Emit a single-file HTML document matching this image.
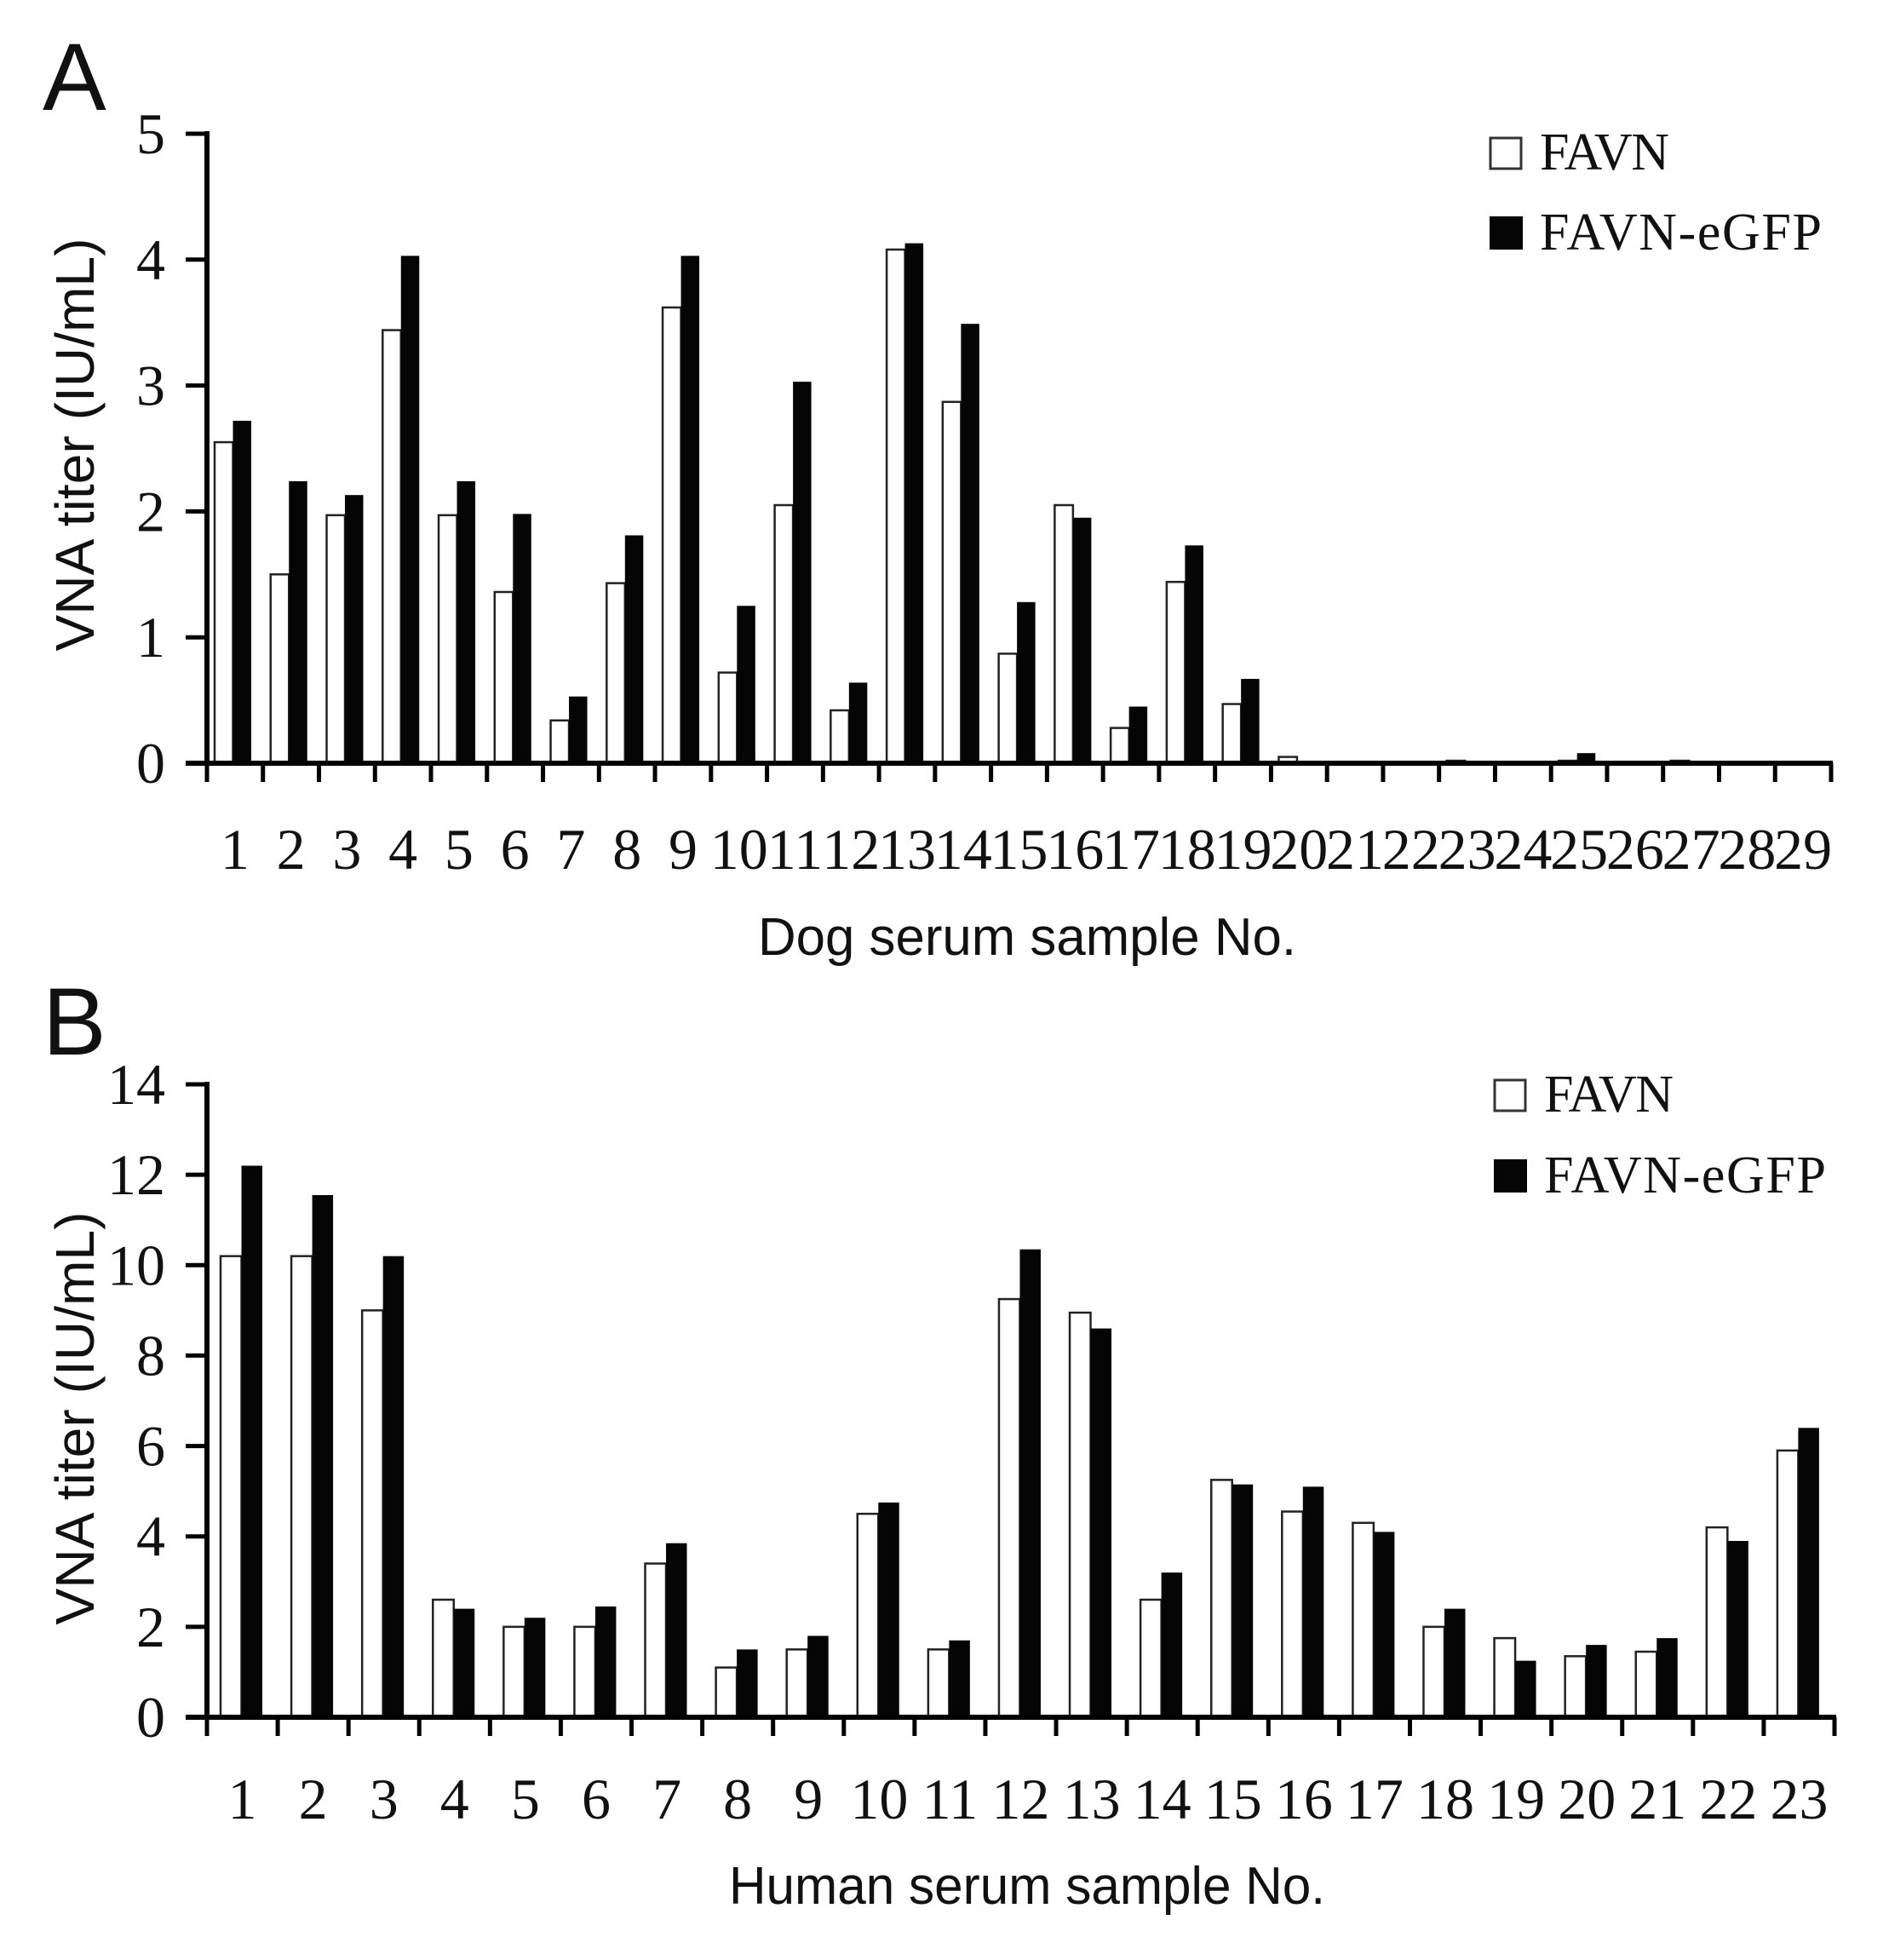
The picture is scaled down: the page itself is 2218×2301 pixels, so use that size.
<!DOCTYPE html>
<html><head><meta charset="utf-8"><style>
html,body{margin:0;padding:0;background:#fff;}
svg{display:block;}
.serif{font-family:"Liberation Serif",serif;fill:#111;}
.sans{font-family:"Liberation Sans",sans-serif;fill:#111;}
</style></head><body>
<svg id="fig" width="2218" height="2301" viewBox="0 0 2218 2301" xmlns="http://www.w3.org/2000/svg">
<rect x="0" y="0" width="2218" height="2301" fill="#fff"/>
<g id="panelA"></g>
<g id="panelB"></g>
</svg>
<script>
const catsA = [1,2,3,4,5,6,7,8,9,10,11,12,13,14,15,16,17,18,19,20,21,22,23,24,25,26,27,28,29];
const favnA = [2.55,1.5,1.97,3.44,1.97,1.36,0.34,1.43,3.62,0.72,2.05,0.42,4.08,2.87,0.87,2.05,0.28,1.44,0.47,0.05,0,0,0.02,0,0.02,0,0.02,0,0];
const egfpA = [2.72,2.24,2.13,4.03,2.24,1.98,0.53,1.81,4.03,1.25,3.03,0.64,4.13,3.49,1.28,1.95,0.45,1.73,0.67,0.02,0,0,0.02,0,0.08,0,0,0,0];
const ticksA = [0,1,2,3,4,5];

const catsB = [1,2,3,4,5,6,7,8,9,10,11,12,13,14,15,16,17,18,19,20,21,22,23];
const favnB = [10.2,10.2,9.0,2.6,2.0,2.0,3.4,1.1,1.5,4.5,1.5,9.25,8.95,2.6,5.25,4.55,4.3,2.0,1.75,1.35,1.45,4.2,5.9];
const egfpB = [12.2,11.55,10.2,2.4,2.2,2.45,3.85,1.5,1.8,4.75,1.7,10.35,8.6,3.2,5.15,5.1,4.1,2.4,1.25,1.6,1.75,3.9,6.4];
const ticksB = [0,2,4,6,8,10,12,14];

const NS = "http://www.w3.org/2000/svg";
function mk(parent, tag, attrs, text){
  const el = document.createElementNS(NS, tag);
  for (const k in attrs) el.setAttribute(k, attrs[k]);
  if (text !== undefined) el.textContent = text;
  parent.appendChild(el);
  return el;
}

function drawPanel(g, cfg){
  const {cats, favn, egfp, ticks, x0, x1, y0, yTop, ymax, barOff, barW, letter, letterY, xTitle, xTitleX, xTitleY, xTitleLen, tickLabelY, yTitleCY, legY1, legY2, legX} = cfg;
  const cw = (x1 - x0) / cats.length;
  const xs = i => x0 + i * cw;
  const ys = v => y0 - (v / ymax) * (y0 - yTop);

  const lt = mk(g, 'text', {x: 50, y: letterY, 'font-size': 112, class: 'sans'}, letter);
  
  

  cats.forEach((c, i) => {
    const bx = xs(i) + barOff;
    const hf = y0 - ys(favn[i]);
    const r1 = mk(g, 'rect', {x: bx, y: ys(favn[i]), width: barW, height: Math.max(hf, 0), fill: '#fff', stroke: '#222', 'stroke-width': 2.5});
    
    
    const he = y0 - ys(egfp[i]);
    const r2 = mk(g, 'rect', {x: bx + barW, y: ys(egfp[i]), width: barW, height: Math.max(he, 0), fill: '#050505'});
    
    
    const tl = mk(g, 'text', {x: xs(i) + cw / 2, y: tickLabelY, 'font-size': 68, 'text-anchor': 'middle', class: 'serif'}, String(c));
    
    
  });
  for (let i = 0; i <= cats.length; i++){
    const t = mk(g, 'line', {x1: xs(i), x2: xs(i), y1: y0, y2: y0 + 22, stroke: '#000', 'stroke-width': 5});
    
    
  }
  const xa = mk(g, 'line', {x1: x0 - 25, x2: x1 + 2, y1: y0, y2: y0, stroke: '#000', 'stroke-width': 6});
  
  
  const ya = mk(g, 'line', {x1: x0, x2: x0, y1: yTop - 3, y2: y0, stroke: '#000', 'stroke-width': 6});
  
  
  ticks.forEach(v => {
    const t = mk(g, 'line', {x1: x0 - 25, x2: x0, y1: ys(v), y2: ys(v), stroke: '#000', 'stroke-width': 5});
    
    
    const tl = mk(g, 'text', {x: 194, y: ys(v) + 23, 'font-size': 68, 'text-anchor': 'end', class: 'serif'}, String(v));
    
    
  });
  const xt = mk(g, 'text', {x: xTitleX, y: xTitleY, 'font-size': 62, 'text-anchor': 'middle', class: 'sans', textLength: xTitleLen, lengthAdjust: 'spacingAndGlyphs'}, xTitle);
  
  
  const yt = mk(g, 'text', {x: 0, y: 0, 'font-size': 64, 'text-anchor': 'middle', class: 'sans', transform: 'translate(110,' + yTitleCY + ') rotate(-90)', textLength: 485, lengthAdjust: 'spacingAndGlyphs'}, 'VNA titer (IU/mL)');
  
  
  const s1 = mk(g, 'rect', {x: legX, y: legY1 - 37, width: 36, height: 36, fill: '#fff', stroke: '#333', 'stroke-width': 3});
  
  
  const l1 = mk(g, 'text', {x: legX + 58, y: legY1, 'font-size': 62, class: 'serif', textLength: 152, lengthAdjust: 'spacing'}, 'FAVN');
  
  
  const s2 = mk(g, 'rect', {x: legX - 1, y: legY2 - 39, width: 39, height: 39, fill: '#050505'});
  
  
  const l2 = mk(g, 'text', {x: legX + 58, y: legY2, 'font-size': 62, class: 'serif', textLength: 331, lengthAdjust: 'spacing'}, 'FAVN-eGFP');
  
  
}

drawPanel(document.getElementById('panelA'), {
  cats: catsA, favn: favnA, egfp: egfpA, ticks: ticksA,
  x0: 243, x1: 2150, y0: 896, yTop: 157, ymax: 5, barOff: 9, barW: 21.5,
  letter: 'A', letterY: 129, xTitle: 'Dog serum sample No.', xTitleX: 1206, xTitleY: 1121, xTitleLen: 632,
  tickLabelY: 1020, yTitleCY: 522, legY1: 199, legY2: 293, legX: 1750
});
drawPanel(document.getElementById('panelB'), {
  cats: catsB, favn: favnB, egfp: egfpB, ticks: ticksB,
  x0: 243, x1: 2154, y0: 2016, yTop: 1273, ymax: 14, barOff: 16, barW: 24.5,
  letter: 'B', letterY: 1238, xTitle: 'Human serum sample No.', xTitleX: 1206, xTitleY: 2235, xTitleLen: 700,
  tickLabelY: 2135, yTitleCY: 1665, legY1: 1305, legY2: 1400, legX: 1755
});
</script>
</body></html>
